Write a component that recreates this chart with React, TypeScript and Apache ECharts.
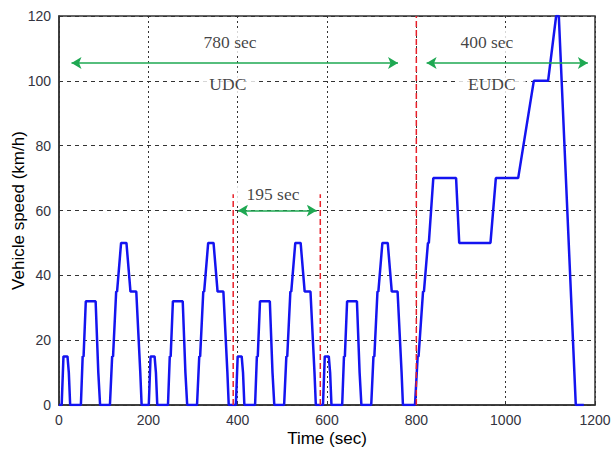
import React, { useEffect, useRef } from "react";
import * as echarts from "echarts";

// Time (s) and speed (km/h) points of the driving cycle (4 x ECE-15 + EUDC)
const timeSec = [
  0, 6, 10, 19, 22, 25, 49, 53, 55, 60, 82, 88, 92, 114, 119, 121, 128, 130, 139, 151, 160, 173, 182, 185,
  195, 201, 205, 214, 217, 220, 244, 248, 250, 255, 277, 283, 287, 309, 314, 316, 323, 325, 334, 346, 355, 368, 377, 380,
  390, 396, 400, 409, 412, 415, 439, 443, 445, 450, 472, 478, 482, 504, 509, 511, 518, 520, 529, 541, 550, 563, 572, 575,
  585, 591, 595, 604, 607, 610, 634, 638, 640, 645, 667, 673, 677, 699, 704, 706, 713, 715, 724, 736, 745, 758, 767, 770,
  797, 803, 805, 815, 817, 826, 828, 838, 889, 896, 966, 978, 1028, 1063, 1095, 1113, 1119, 1157, 1175,
];
const speedKmh = [
  0, 0, 15, 15, 10, 0, 0, 15, 15, 32, 32, 10, 0, 0, 15, 15, 35, 35, 50, 50, 35, 35, 10, 0,
  0, 0, 15, 15, 10, 0, 0, 15, 15, 32, 32, 10, 0, 0, 15, 15, 35, 35, 50, 50, 35, 35, 10, 0,
  0, 0, 15, 15, 10, 0, 0, 15, 15, 32, 32, 10, 0, 0, 15, 15, 35, 35, 50, 50, 35, 35, 10, 0,
  0, 0, 15, 15, 10, 0, 0, 15, 15, 32, 32, 10, 0, 0, 15, 15, 35, 35, 50, 50, 35, 35, 10, 0,
  0, 15, 15, 35, 35, 50, 50, 70, 70, 50, 50, 70, 70, 100, 100, 120, 120, 0, 0,
];

// Red dashed separators: [time, top speed]
const separators: [number, number][] = [
  [390, 65],
  [585, 65],
  [800, 120],
];

// Green double arrows: [start time, end time, speed level]
const spanArrows: [number, number, number][] = [
  [28, 759, 105.5],
  [823, 1184, 105.5],
  [401, 577, 60],
];

// Annotation texts: [text, time, speed]
const annotations: [string, number, number][] = [
  ["780 sec", 383, 112],
  ["UDC", 378, 99],
  ["400 sec", 958, 112],
  ["EUDC", 969, 99],
  ["195 sec", 479, 65],
];

export default function App() {
  const ref = useRef<HTMLDivElement>(null);
  useEffect(() => {
    if (!ref.current) return;
    const chart = echarts.init(ref.current, null, { renderer: "svg" });
    const tickStyle = { color: "#333340", fontSize: 14, fontFamily: "Liberation Sans, Arial, sans-serif" };
    const nameStyle = { color: "#000", fontSize: 17, fontFamily: "Liberation Sans, Arial, sans-serif" };
    const series: any[] = [
      {
        type: "line",
        data: timeSec.map((t, i) => [t, speedKmh[i]]),
        showSymbol: false,
        symbol: "none",
        lineStyle: { color: "#1414f0", width: 2.5 },
        z: 3,
      },
    ];
    separators.forEach(([t, top]) => {
      series.push({
        type: "line",
        data: [
          [t, 0],
          [t, top],
        ],
        symbol: "none",
        lineStyle: { color: "#e8202a", width: 1.5, type: [6, 3] },
        z: 4,
      });
    });
    series.push({
      type: "line",
      data: [],
      symbol: "none",
      markLine: {
        silent: true,
        symbol: ["arrow", "arrow"],
        symbolSize: [9, 10],
        label: { show: false },
        lineStyle: { color: "#1ea852", width: 1.5, type: "solid" },
        data: spanArrows.map(([a, b, v]) => [{ coord: [a, v] }, { coord: [b, v] }]),
      },
      z: 5,
    });
    series.push({
      type: "scatter",
      symbolSize: 0,
      data: annotations.map(([txt, t, v]) => ({ value: [t, v], name: txt })),
      label: {
        show: true,
        position: "inside",
        formatter: (p: any) => p.name,
        color: "#111",
        fontSize: 17.5,
        fontFamily: "Liberation Serif, Times New Roman, serif",
        backgroundColor: "#fff",
        padding: [2, 10],
      },
      z: 6,
    });
    chart.setOption({
      animation: false,
      backgroundColor: "#fff",
      grid: {
        left: 59,
        right: 16,
        top: 16,
        bottom: 47,
        show: true,
        borderColor: "#333",
        borderWidth: 1.5,
        containLabel: false,
        outerBoundsMode: "none",
      },
      xAxis: {
        type: "value",
        min: 0,
        max: 1200,
        interval: 200,
        name: "Time (sec)",
        nameLocation: "middle",
        nameGap: 24.5,
        nameMoveOverlap: false,
        nameTextStyle: nameStyle,
        axisLine: { show: true, lineStyle: { color: "#333", width: 1.5 } },
        axisTick: { show: true, inside: true, length: 4, lineStyle: { color: "#333" } },
        axisLabel: { ...tickStyle, margin: 8, formatter: (v: number) => String(v) },
        splitLine: { show: true, lineStyle: { color: "#333", type: [2, 3], width: 1 } },
      },
      yAxis: {
        type: "value",
        min: 0,
        max: 120,
        interval: 20,
        name: "Vehicle speed (km/h)",
        nameLocation: "middle",
        nameGap: 32.5,
        nameMoveOverlap: false,
        nameTextStyle: nameStyle,
        axisLine: { show: true, lineStyle: { color: "#333", width: 1.5 } },
        axisTick: { show: true, inside: true, length: 4, lineStyle: { color: "#333" } },
        axisLabel: { ...tickStyle, margin: 8, formatter: (v: number) => String(v) },
        splitLine: { show: true, lineStyle: { color: "#333", type: [4, 4], width: 1 } },
      },
      series,
    });
    return () => chart.dispose();
  }, []);
  return <div ref={ref} style={{ position: "fixed", left: 0, top: 0, width: 611, height: 452 }} />;
}
